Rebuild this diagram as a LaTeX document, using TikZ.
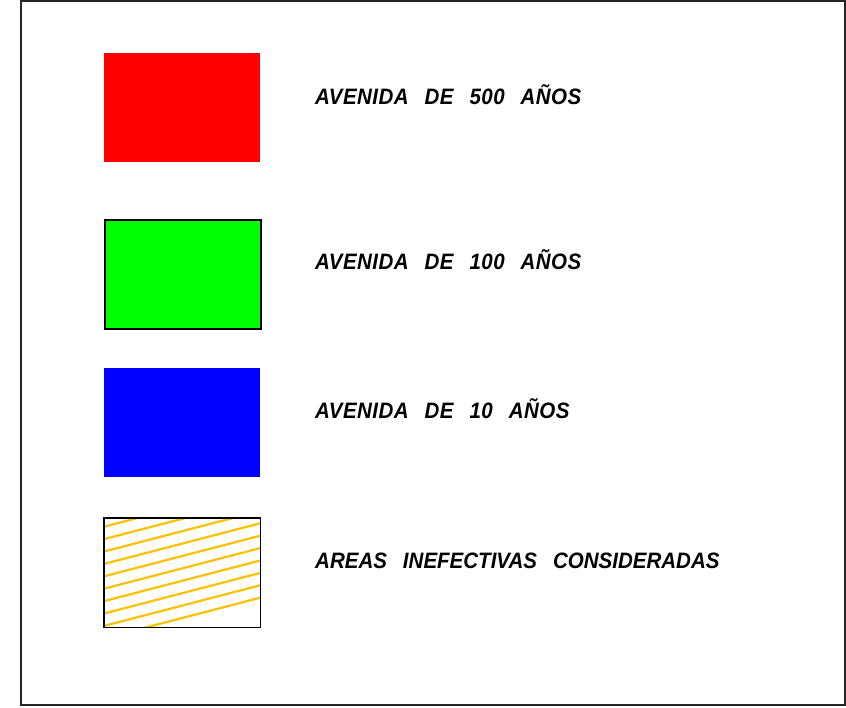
\documentclass[tikz,border=0pt]{standalone}
\usepackage{fontspec}
\setmainfont{Liberation Sans}
\newfontfamily\legendfont[FakeStretch=0.92]{Liberation Sans}
\newfontfamily\legendwidefont[FakeStretch=0.92,LetterSpace=2]{Liberation Sans}
\definecolor{hatchcol}{HTML}{FFC000}
\begin{document}
\begin{tikzpicture}[x=1pt,y=-1pt,
  swatch/.style={minimum width=156pt,minimum height=109pt,inner sep=0pt,anchor=north west},
  legendtext/.style={anchor=base west,inner sep=0pt,font=\legendfont\fontsize{22.3}{22.3}\selectfont\bfseries\itshape},
  legendwide/.style={legendtext,font=\legendwidefont\fontsize{22.3}{22.3}\selectfont\bfseries\itshape},
  frameline/.style={draw=black!85,line width=2pt}]
\useasboundingbox (0,0) rectangle (846,707);
\draw[frameline] (21,1) rectangle (845,705);
% swatches
\node[swatch,fill=red] (s500) at (104,53) {};
\node[swatch,fill=green,draw=black,line width=1.8pt] (s100) at (104,219) {};
\node[swatch,fill=blue] (s10) at (104,368) {};
\node[swatch] (shatch) at (104,518) {};
\begin{scope}
  \clip (shatch.north west) rectangle (shatch.south east);
  \foreach \k in {-5,...,9} {
    \draw[hatchcol,line width=2.2pt] (104,{526.7+12.4*\k}) -- (270,{526.7+12.4*\k-0.26*166});
  }
\end{scope}
\draw[black,line width=1.8pt] (shatch.north west) rectangle (shatch.south east);
% texts
\def\gap{\hspace{16pt}}
\node[legendwide] (t500) at (315,104.5) {AVENIDA\gap DE\gap 500\gap AÑOS};
\node[legendwide] (t100) at (315,269.5) {AVENIDA\gap DE\gap 100\gap AÑOS};
\node[legendwide] (t10) at (315,418) {AVENIDA\gap DE\gap 10\gap AÑOS};
\node[legendtext] (tarea) at (315,568.5) {AREAS\gap INEFECTIVAS\gap CONSIDERADAS};
\end{tikzpicture}
\end{document}
